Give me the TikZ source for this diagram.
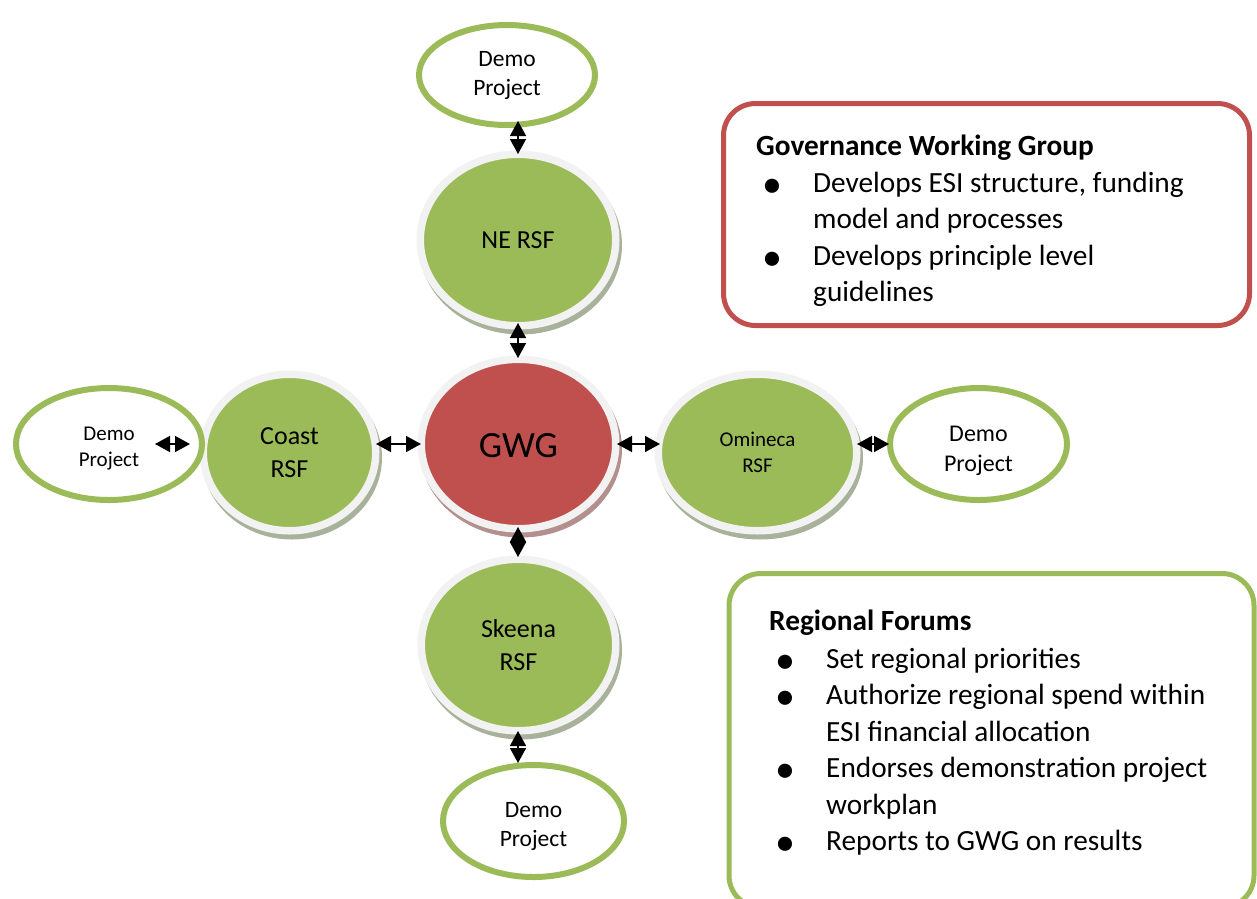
\documentclass[tikz,border=0pt]{standalone}
\usepackage{fontspec}
\setmainfont{Carlito}
\usetikzlibrary{shapes.geometric,arrows.meta,shadows}
\definecolor{rsfgreen}{HTML}{9BBB59}
\definecolor{gwgred}{HTML}{C0504D}
\definecolor{ringgray}{HTML}{F2F2F2}
\definecolor{gshadow}{HTML}{A8B29A}
\definecolor{rshadow}{HTML}{B38F8E}
\tikzset{
  mainell/.style={ellipse, inner sep=0pt, align=center, draw=ringgray, line width=7.5pt,
    general shadow={fill=#1, draw=#1, line width=7.5pt, opacity=1,
      shadow xshift=2.5pt, shadow yshift=-5pt}},
  demoell/.style={ellipse, inner sep=0pt, align=center, draw=rsfgreen, fill=white, line width=6pt},
  dbl/.style={{Triangle[length=15pt,width=16pt]}-{Triangle[length=15pt,width=16pt]}, line width=1.5pt, black},
  infobox/.style={rectangle, rounded corners=32pt, line width=5pt, fill=white, inner sep=0pt},
  boxtext/.style={anchor=base west, inner sep=0pt, font=\fontsize{29.3}{36.5}\selectfont},
}
\newcommand{\blt}{\hspace*{6pt}\raisebox{-5pt}[0pt][0pt]{\fontsize{40}{36}\selectfont\textbullet}}
\begin{document}
\begin{tikzpicture}[x=1pt,y=-1pt]
\useasboundingbox (0,0) rectangle (1257,898);
\clip (0,0) rectangle (1257,898);

% main ellipses
\node[mainell=gshadow, fill=rsfgreen, minimum width=195.5pt, minimum height=171.5pt,
  font=\fontsize{26}{33}\selectfont] (ne) at (518,240) {NE RSF};
\node[mainell=rshadow, fill=gwgred, minimum width=194.5pt, minimum height=169.5pt,
  font=\fontsize{37}{44}\selectfont] (gwg) at (518.5,444) {\rule{0pt}{27pt}GWG};
\node[mainell=gshadow, fill=rsfgreen, minimum width=194.5pt, minimum height=171.5pt,
  font=\fontsize{26}{33}\selectfont] (skeena) at (518.5,645) {Skeena\\RSF};
\node[mainell=gshadow, fill=rsfgreen, minimum width=172.5pt, minimum height=156.5pt,
  font=\fontsize{26}{33}\selectfont] (coast) at (289.5,452.5) {Coast\\RSF};
\node[mainell=gshadow, fill=rsfgreen, minimum width=198.5pt, minimum height=156.5pt,
  font=\fontsize{21}{26}\selectfont] (omineca) at (757.5,452.5) {Omineca\\RSF};

% demo ellipses
\node[demoell, minimum width=176pt, minimum height=100pt,
  font=\fontsize{23.5}{29}\selectfont] (tdemo) at (507,75) {Demo\\Project};
\node[demoell, minimum width=186pt, minimum height=112pt,
  font=\fontsize{21}{26}\selectfont] (ldemo) at (109,444) {\rule{0pt}{23.5pt}Demo\\Project};
\node[demoell, minimum width=177pt, minimum height=112pt,
  font=\fontsize{24}{30}\selectfont] (rdemo) at (978.5,444) {\rule{0pt}{29.5pt}Demo\\Project};
\node[demoell, minimum width=181pt, minimum height=112pt,
  font=\fontsize{23.5}{29}\selectfont] (bdemo) at (533.5,821) {\rule{0pt}{25pt}Demo\\Project};

% connectors
\draw[dbl, shorten <=-7pt, shorten >=-3.5pt] (ne.north |- tdemo.south) -- (ne.north);
\draw[dbl, shorten <=-6.5pt, shorten >=-2.5pt] (ne.south) -- (ne.south |- gwg.north);
\draw[dbl, shorten <=-5.5pt, shorten >=-1.5pt] (gwg.south -| ne.south) -- (ne.south |- skeena.north);
\draw[dbl, shorten <=-3.5pt, shorten >=-1pt] (ne.south |- skeena.south) -- (ne.south |- bdemo.north);
\draw[dbl, shorten <=-3.5pt, shorten >=-3.5pt] (coast.east |- gwg.west) -- (gwg.west);
\draw[dbl, shorten <=-2.5pt, shorten >=-5.5pt] (gwg.east) -- (gwg.east -| omineca.west);
\draw[dbl, shorten <=-3.5pt, shorten >=-2pt] (omineca.east |- rdemo.west) -- (rdemo.west);
\draw[dbl, shorten <=46pt, shorten >=9.5pt] (ldemo.center) -- (ldemo.center -| coast.west);

% info boxes
\node[infobox, draw=gwgred, minimum width=526pt, minimum height=222pt] (gbox) at (986.5,214.5) {};
\node[boxtext] (gtext) at (756,155) {\begin{tabular}[t]{@{}p{57pt}@{}l@{}}
\multicolumn{2}{@{}l@{}}{\textbf{Governance Working Group}}\\[0.5pt]
\blt & Develops ESI structure, funding\\
 & model and processes\\
\blt & Develops principle level\\
 & guidelines
\end{tabular}};

\node[infobox, draw=rsfgreen, minimum width=525pt, minimum height=334pt] (rbox) at (991.5,740.5) {};
\node[boxtext] (rtext) at (769,630) {\begin{tabular}[t]{@{}p{57pt}@{}l@{}}
\multicolumn{2}{@{}l@{}}{\textbf{Regional Forums}}\\[1.5pt]
\blt & Set regional priorities\\
\blt & Authorize regional spend within\\
 & ESI financial allocation\\
\blt & Endorses demonstration project\\
 & workplan\\
\blt & Reports to GWG on results
\end{tabular}};
\end{tikzpicture}
\end{document}
